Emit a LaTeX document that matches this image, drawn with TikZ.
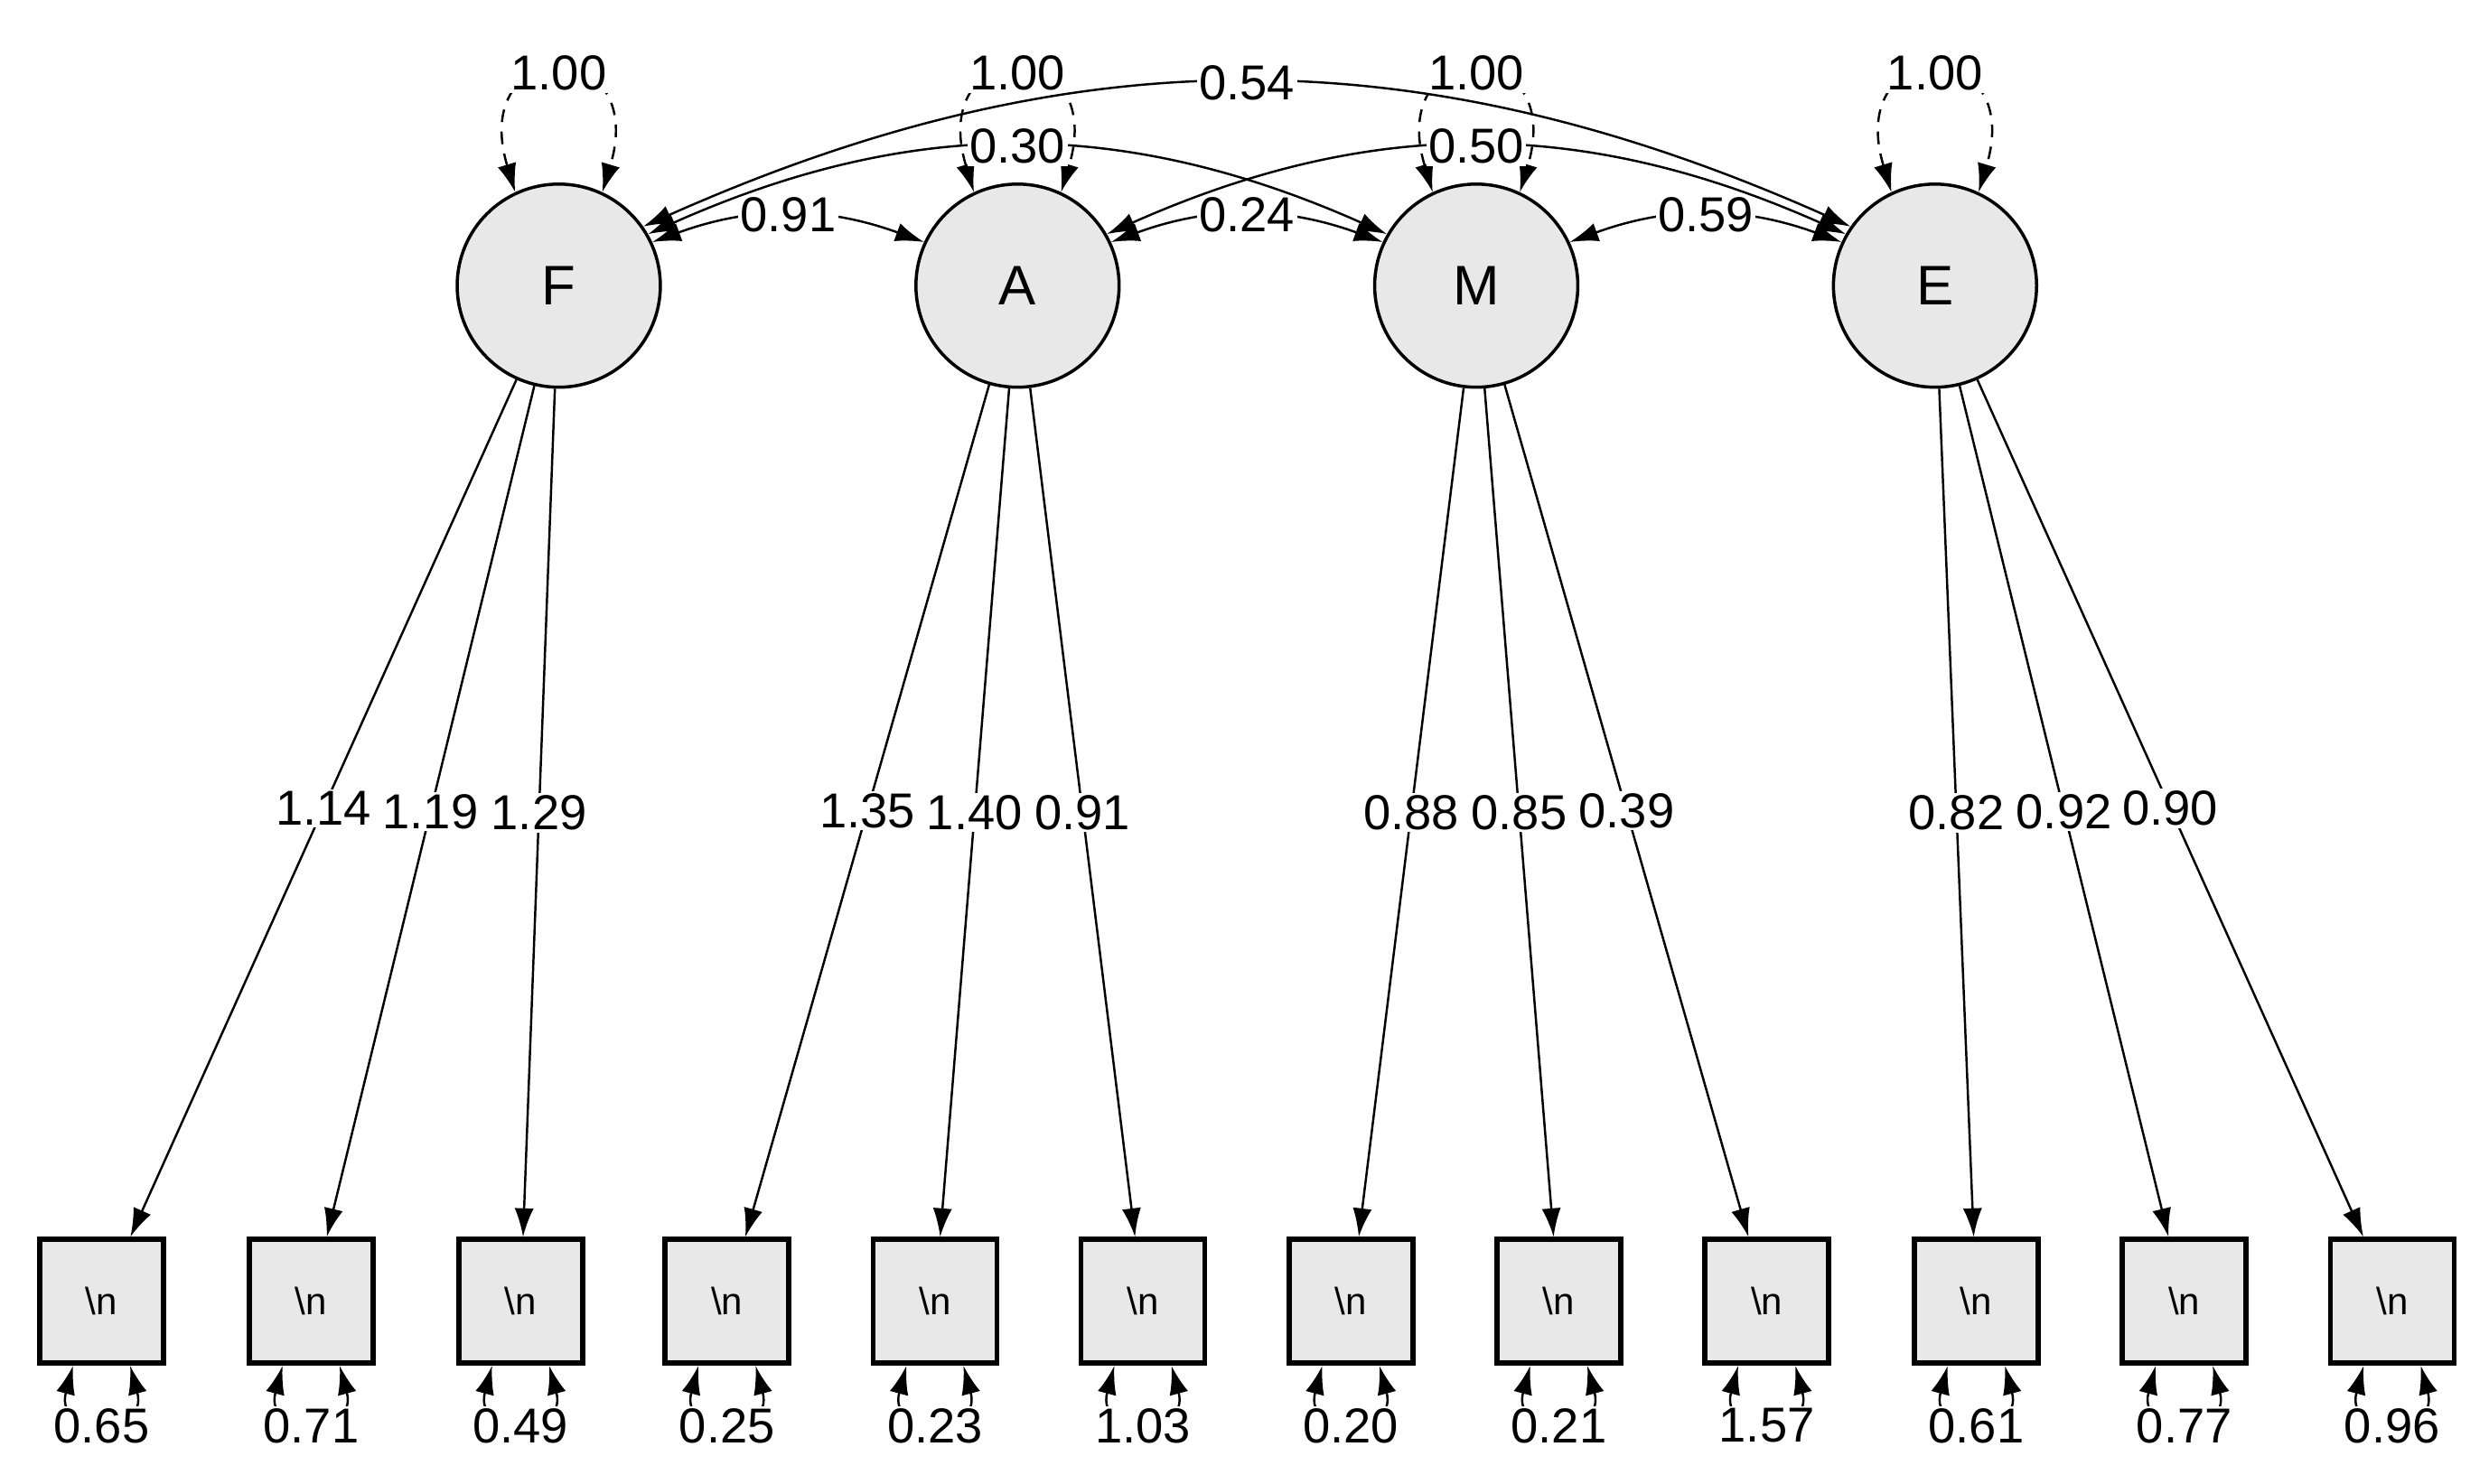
\documentclass[tikz,border=0pt]{standalone}
\usepackage{fontspec}
\setmainfont{Liberation Sans}
\usetikzlibrary{arrows.meta}
\begin{document}
\begin{tikzpicture}[x=0.25mm,y=-0.25mm,
  >={Latex[length=4.5mm,width=3mm]},
  lat/.style={circle,draw,line width=0.5mm,fill=black!9,minimum size=32mm,inner sep=0pt,font=\fontsize{25}{28}\selectfont},
  obs/.style={rectangle,draw,line width=0.8mm,fill=black!9,minimum size=19.5mm,inner sep=0pt,font=\fontsize{17}{20}\selectfont},
  lab/.style={fill=white,inner sep=1pt,font=\fontsize{22}{25}\selectfont},
  edge/.style={->,line width=0.35mm},
  cov/.style={<->,line width=0.35mm},
  var/.style={<->,line width=0.35mm,dashed,dash pattern=on 2mm off 1.5mm}]
\useasboundingbox (0,0) rectangle (1568,935);
% latent variables
\foreach \n/\x in {F/352,A/641,M/930,E/1219}
  \node[lat] (\n) at (\x,180) {\n};
% indicators
\foreach \n/\x in {F_1/64,F_2/196,F_3/328,A_1/458,A_2/589,A_3/720,M_1/851,M_2/982,M_3/1113,E_1/1245,E_2/1376,E_3/1507}
  \node[obs] (\n) at (\x,820) {\detokenize{\n}};
% loadings
\foreach \l/\o/\v/\p in {F/F_1/1.14/0.5,F/F_2/1.19/0.5,F/F_3/1.29/0.5,
                        A/A_1/1.35/0.5,A/A_2/1.40/0.5,A/A_3/0.91/0.5,
                        M/M_1/0.88/0.5,M/M_2/0.85/0.5,M/M_3/0.39/0.5,
                        E/E_1/0.82/0.5,E/E_2/0.92/0.5,E/E_3/0.90/0.5}
  \draw[edge] (\l) -- node[lab,pos=\p] {\v} (\o);
% latent variances
\foreach \n in {F,A,M,E}
  \draw[var] (\n.115) .. controls +(-30,-100) and +(30,-100) .. node[lab,pos=0.5] {1.00} (\n.65);
% covariances
\draw[cov] (F.25) to[bend left=20] node[lab] {0.91} (A.155);
\draw[cov] (A.25) to[bend left=20] node[lab] {0.24} (M.155);
\draw[cov] (M.25) to[bend left=20] node[lab] {0.59} (E.155);
\draw[cov] (F.30) to[bend left=24] node[lab] {0.30} (M.150);
\draw[cov] (A.30) to[bend left=24] node[lab] {0.50} (E.150);
\draw[cov] (F.35) to[bend left=24] node[lab] {0.54} (E.145);
% residual variances
\foreach \n/\v in {F_1/0.65,F_2/0.71,F_3/0.49,A_1/0.25,A_2/0.23,A_3/1.03,M_1/0.20,M_2/0.21,M_3/1.57,E_1/0.61,E_2/0.77,E_3/0.96}
  \draw[<->,line width=0.35mm] ([xshift=-4.5mm]\n.south) .. controls +(-12,45) and +(12,45) .. node[lab,pos=0.5,yshift=-1mm] {\v} ([xshift=4.5mm]\n.south);
\end{tikzpicture}
\end{document}
